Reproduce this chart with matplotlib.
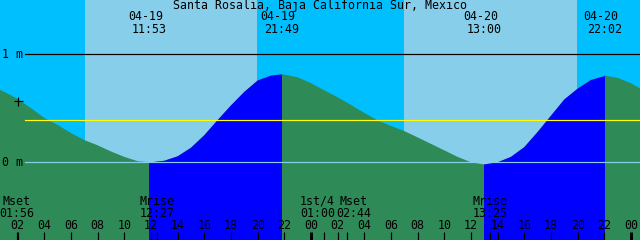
import numpy as np
import matplotlib
matplotlib.use("Agg")
import matplotlib.pyplot as plt
import matplotlib.transforms as mtransforms

# hours counted from 04-19 00:00
hours = np.arange(0, 50)
heights = [0.71, 0.65, 0.585, 0.50, 0.41, 0.345, 0.27, 0.205, 0.157, 0.10,
           0.05, 0.01, 0.0, 0.014, 0.055, 0.134, 0.25, 0.39, 0.525, 0.65,
           0.755, 0.80, 0.81, 0.785, 0.73, 0.665, 0.60, 0.53, 0.456, 0.387,
           0.336, 0.288, 0.23, 0.17, 0.11, 0.05, 0.0, -0.02, 0.0, 0.05,
           0.14, 0.28, 0.43, 0.58, 0.68, 0.76, 0.795, 0.78, 0.73, 0.66]

sun_rise = [7 + 3 / 60, 24 + 6 + 58 / 60]
sun_set = [19 + 57 / 60, 24 + 19 + 57 / 60]

tide_times = [11 + 53 / 60, 21 + 49 / 60, 24 + 13.0, 24 + 22 + 2 / 60]
tide_heights = [0.0, 0.812, -0.02, 0.80]
tide_dates = ["04-19", "04-19", "04-20", "04-20"]
tide_labels = ["11:53", "21:49", "13:00", "22:02"]
flood_start = [11 + 53 / 60, 24 + 13.0]
flood_end = [21 + 49 / 60, 24 + 22 + 2 / 60]

moon_times = [1 + 56 / 60, 12 + 27 / 60, 25.0, 26 + 44 / 60, 24 + 13 + 25 / 60]
moon_names = ["Mset", "Mrise", "1st/4", "Mset", "Mrise"]
moon_labels = ["01:56", "12:27", "01:00", "02:44", "13:25"]
moon_shift = [0, 0, -7, 6, 0]  # px, labels pushed apart where they overlap

mean_level = 0.387
marker_t, marker_h = 2.0, 0.57

W, H = 640, 240
PX = 72 / 100  # points per pixel
t0 = 0.675
t1 = t0 + 48
y_top = 162.3 / 108.3
y_bot = -(H - 162.3) / 108.3

night = "#00BFFF"
day = "#87CEEB"
ebb = "#2E8B57"
flood = "#0000FF"
font = dict(family="DejaVu Sans Mono", fontsize=8.4, color="black")

# hourly readings plus the high/low points themselves
tt = np.concatenate([hours, tide_times])
hh = np.concatenate([heights, tide_heights])
order = np.argsort(tt)
tt, hh = tt[order], hh[order]

fig = plt.figure(figsize=(6.4, 2.4), dpi=100)
ax = fig.add_axes([0, 0, 1, 1])
ax.set_xlim(t0, t1)
ax.set_ylim(y_bot, y_top)
ax.axis("off")
ax.axvspan(t0, t1, color=night, zorder=0, lw=0)
for a, b in zip(sun_rise, sun_set):
    ax.axvspan(a, b, color=day, zorder=0.5, lw=0)

poly = ax.fill_between(tt, hh, y_bot, color=ebb, lw=0, zorder=1)
clip = poly.get_paths()[0]
for a, b in zip(flood_start, flood_end):
    sp = ax.axvspan(a, b, color=flood, lw=0, zorder=2)
    sp.set_clip_path(clip, ax.transData)

x_start = 25 / W
ax.axhline(1.0, xmin=x_start, color="black", lw=1.2 * PX, zorder=3)
ax.axhline(mean_level, xmin=x_start, color="#FFFF00", lw=1.2 * PX, zorder=3)
ax.axhline(0.0, xmin=x_start, color=day, lw=1.2 * PX, zorder=3)
ax.plot([marker_t], [marker_h], marker="+", color="black", ms=9 * PX,
        mew=1.2 * PX, zorder=4)

yt = mtransforms.blended_transform_factory(ax.transAxes, ax.transData)
ax.text(12 / W, 1.0, "1 m", ha="center", va="center", transform=yt, **font)
ax.text(12 / W, 0.0, "0 m", ha="center", va="center", transform=yt, **font)

bt = mtransforms.blended_transform_factory(ax.transData, ax.transAxes)


def yf(py):
    return 1 - py / H


ax.text(0.5, yf(5.5), "Santa Rosalia, Baja California Sur, Mexico",
        ha="center", va="center", transform=ax.transAxes, **font)

for t, d, lab in zip(tide_times, tide_dates, tide_labels):
    ax.annotate(d, xy=(t, yf(17)), xycoords=bt, xytext=(-4 * PX, 0),
                textcoords="offset points", ha="center", va="center", **font)
    ax.annotate(lab, xy=(t, yf(29.7)), xycoords=bt, xytext=(0, 0),
                textcoords="offset points", ha="center", va="center", **font)

for t, n, lab, s in zip(moon_times, moon_names, moon_labels, moon_shift):
    ax.annotate(n, xy=(t, yf(201.5)), xycoords=bt, xytext=(s * PX, 0),
                textcoords="offset points", ha="center", va="center", **font)
    ax.annotate(lab, xy=(t, yf(213.5)), xycoords=bt, xytext=(s * PX, 0),
                textcoords="offset points", ha="center", va="center", **font)
    ax.vlines(t, 0, 8 / H, transform=bt, color="black", lw=1.2 * PX, zorder=5)

for hr in range(2, 49, 2):
    ax.text(hr, yf(225.5), "%02d" % (hr % 24), ha="center", va="center",
            transform=bt, **font)
    lw = 3 * PX if hr % 24 == 0 else 1.2 * PX
    ax.vlines(hr, 0, 8 / H, transform=bt, color="black", lw=lw, zorder=5)

fig.savefig("out.png", dpi=100)
